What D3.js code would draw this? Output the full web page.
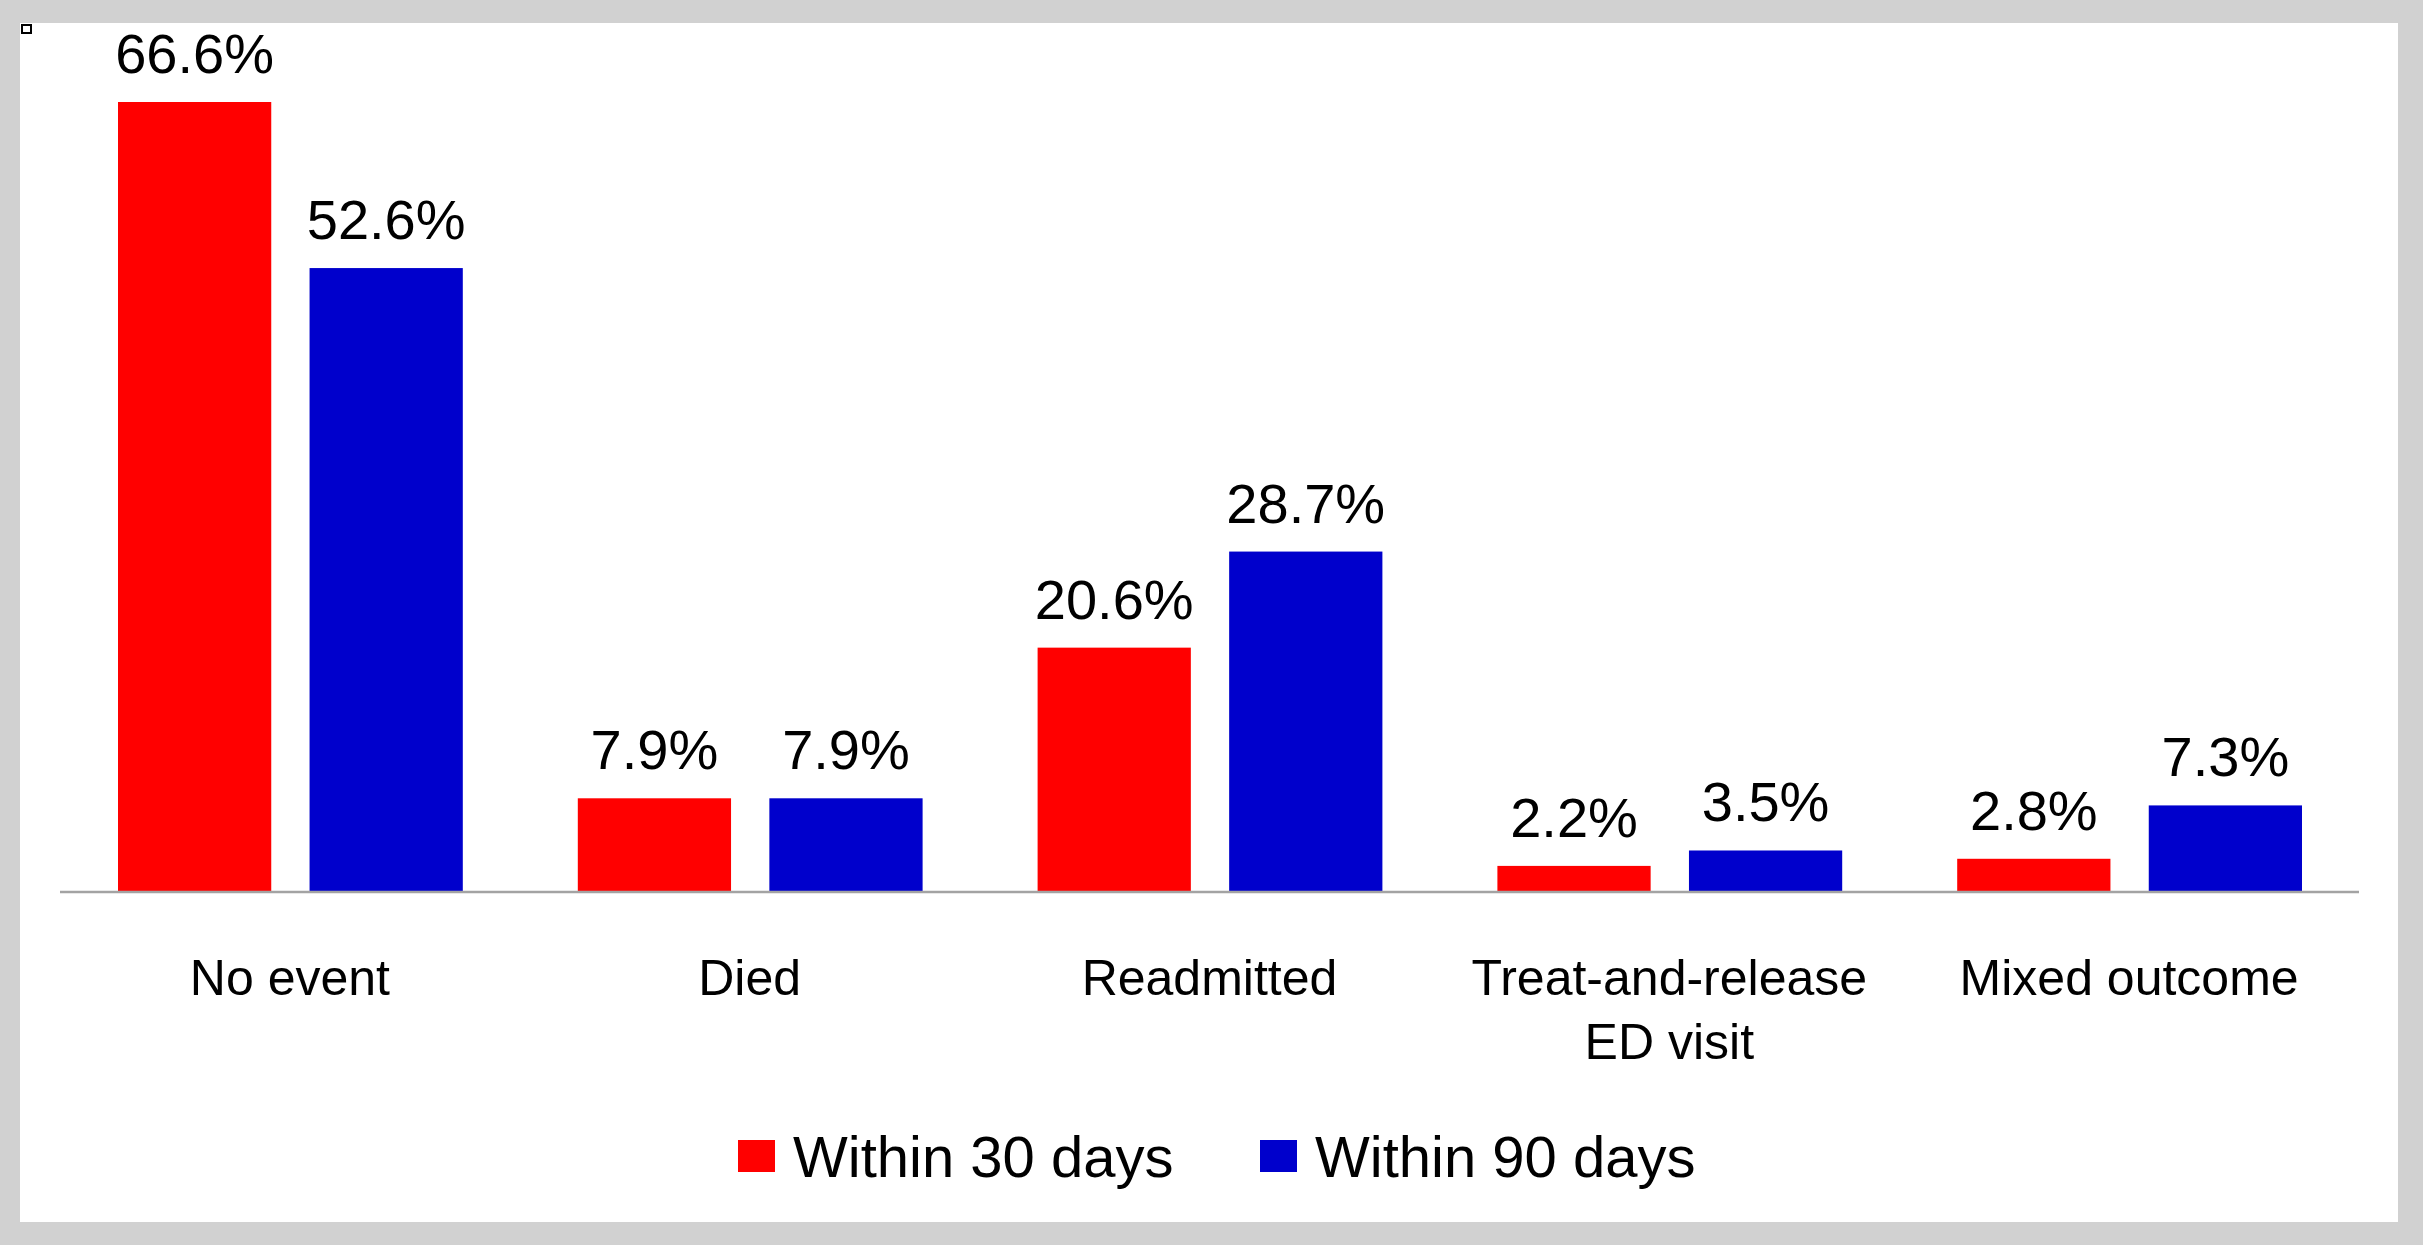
<!DOCTYPE html>
<html>
<head>
<meta charset="utf-8">
<script src="https://cdn.jsdelivr.net/npm/d3@7"></script>
<style>
  html, body { margin: 0; padding: 0; background: #d1d1d1; }
  svg { display: block; }
  text { font-family: "Liberation Sans", Arial, sans-serif; fill: #000; }
</style>
</head>
<body>
<svg id="chart" width="2423" height="1245"></svg>
<script>
const categories = ["No event", "Died", "Readmitted", "Treat-and-release\nED visit", "Mixed outcome"];
const seriesNames = ["Within 30 days", "Within 90 days"];
const within30 = [66.6, 7.9, 20.6, 2.2, 2.8];
const within90 = [52.6, 7.9, 28.7, 3.5, 7.3];
const seriesColors = ["#ff0000", "#0000cc"];

const W = 2423, H = 1245;
const svg = d3.select("#chart");

// grey frame + white panel
svg.append("rect").attr("x", 0).attr("y", 0).attr("width", W).attr("height", H).attr("fill", "#d1d1d1");
svg.append("rect").attr("x", 20).attr("y", 23).attr("width", 2378).attr("height", 1199).attr("fill", "#ffffff");
svg.append("rect").attr("x", 22).attr("y", 25).attr("width", 9).attr("height", 8)
  .attr("fill", "none").attr("stroke", "#000").attr("stroke-width", 2);

const plotLeft = 60, plotRight = 2359, baseline = 892;
const x0 = d3.scaleBand().domain(categories).range([plotLeft, plotRight]).paddingInner(0).paddingOuter(0);
const bandW = x0.bandwidth();
const x1 = d3.scaleBand().domain(seriesNames).range([58, bandW - 57]).paddingInner(0.2);
const y = d3.scaleLinear().domain([0, 66.6]).range([baseline, 102]);

const data = categories.map((c, i) => ({ cat: c, vals: [within30[i], within90[i]] }));

const groups = svg.append("g").selectAll("g").data(data).join("g")
  .attr("transform", d => `translate(${x0(d.cat)},0)`);

groups.selectAll("rect").data(d => d.vals.map((v, j) => ({ v, s: seriesNames[j], j })))
  .join("rect")
  .attr("x", d => x1(d.s))
  .attr("width", x1.bandwidth())
  .attr("y", d => y(d.v))
  .attr("height", d => y(0) - y(d.v))
  .attr("fill", d => seriesColors[d.j]);

groups.selectAll("text.val").data(d => d.vals.map((v, j) => ({ v, s: seriesNames[j], j })))
  .join("text")
  .attr("class", "val")
  .attr("x", d => x1(d.s) + x1.bandwidth() / 2)
  .attr("y", d => y(d.v) - 29)
  .attr("text-anchor", "middle")
  .attr("font-size", 56)
  .text(d => d.v.toFixed(1) + "%");

// axis line
svg.append("line").attr("x1", plotLeft).attr("x2", plotRight)
  .attr("y1", baseline).attr("y2", baseline)
  .attr("stroke", "#a3a3a3").attr("stroke-width", 2.5);

// category labels
const catLabels = svg.append("g").selectAll("text").data(categories).join("text")
  .attr("x", d => x0(d) + bandW / 2)
  .attr("y", 995)
  .attr("text-anchor", "middle")
  .attr("font-size", 50);
catLabels.each(function(d) {
  const lines = d.split("\n");
  const t = d3.select(this);
  lines.forEach((ln, k) => {
    t.append("tspan").attr("x", x0(d) + bandW / 2).attr("dy", k === 0 ? 0 : 64).text(ln);
  });
});

// legend
const legendX = [738, 1260];
const leg = svg.append("g").selectAll("g").data(seriesNames).join("g")
  .attr("transform", (d, i) => `translate(${legendX[i]},0)`);
leg.append("rect").attr("x", 0).attr("y", 1140).attr("width", 37).attr("height", 32)
  .attr("fill", (d, i) => seriesColors[i]);
leg.append("text").attr("x", 55).attr("y", 1177).attr("font-size", 58).text(d => d);
</script>
</body>
</html>
